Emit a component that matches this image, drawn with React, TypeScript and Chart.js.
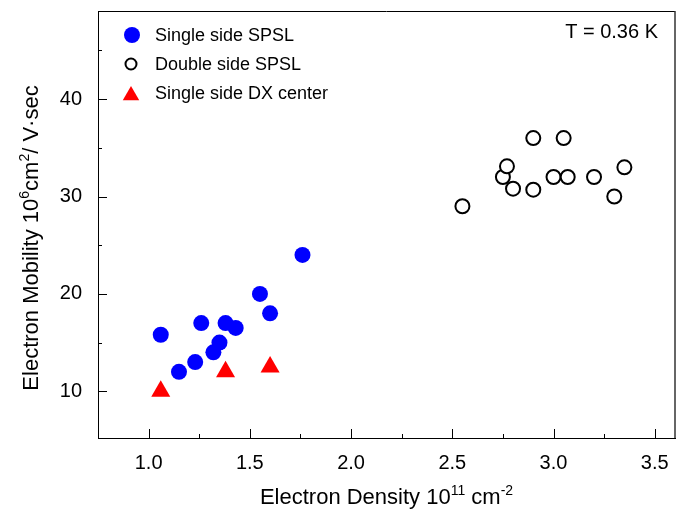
import React, { useEffect, useRef } from 'react';
import { Chart, registerables } from 'chart.js';

Chart.register(...registerables);

const singleX = [1.06, 1.15, 1.23, 1.26, 1.32, 1.35, 1.38, 1.43, 1.55, 1.6, 1.76];
const singleY = [15.8, 12.0, 13.0, 17.0, 14.0, 15.0, 17.0, 16.5, 20.0, 18.0, 24.0];
const doubleX = [2.55, 2.75, 2.77, 2.8, 2.9, 2.9, 3.0, 3.05, 3.07, 3.2, 3.3, 3.35];
const doubleY = [29.0, 32.0, 33.1, 30.8, 36.0, 30.7, 32.0, 36.0, 32.0, 32.0, 30.0, 33.0];
const dxX = [1.06, 1.38, 1.6];
const dxY = [10.0, 12.0, 12.5];

const xTicks = [1.0, 1.5, 2.0, 2.5, 3.0, 3.5];
const xMinorTicks = [1.25, 1.75, 2.25, 2.75, 3.25];
const yTicks = [10, 20, 30, 40];
const yMinorTicks = [15, 25, 35, 45];

const legendLabels = ['Single side SPSL', 'Double side SPSL', 'Single side DX center'];
const annotationText = 'T = 0.36 K';
const xTitleParts = [
  { t: 'Electron Density 10', sup: false },
  { t: '11', sup: true },
  { t: ' cm', sup: false },
  { t: '-2', sup: true },
];
const yTitleParts = [
  { t: 'Electron Mobility 10', sup: false },
  { t: '6', sup: true },
  { t: 'cm', sup: false },
  { t: '2', sup: true },
  { t: '/ V\u00B7sec', sup: false },
];

const FONT = '"Liberation Sans", Arial, Helvetica, sans-serif';

function toPoints(xs: number[], ys: number[]) {
  return xs.map((x, i) => ({ x, y: ys[i] }));
}

function drawRich(ctx: CanvasRenderingContext2D, parts: { t: string; sup: boolean }[], size: number, cx: number, baseline: number) {
  const supSize = Math.round(size * 0.62);
  let total = 0;
  for (const p of parts) {
    ctx.font = `${p.sup ? supSize : size}px ${FONT}`;
    total += ctx.measureText(p.t).width;
  }
  let x = cx - total / 2;
  ctx.textAlign = 'left';
  ctx.textBaseline = 'alphabetic';
  for (const p of parts) {
    ctx.font = `${p.sup ? supSize : size}px ${FONT}`;
    ctx.fillText(p.t, x, p.sup ? baseline - size * 0.42 : baseline);
    x += ctx.measureText(p.t).width;
  }
}

const decorPlugin = {
  id: 'decor',
  afterDraw(chart: any) {
    const { ctx, chartArea, scales } = chart;
    const { left, right, top, bottom } = chartArea;
    ctx.save();
    ctx.strokeStyle = '#000';
    ctx.lineWidth = 1;
    ctx.beginPath();
    ctx.moveTo(left, top + 0.5);
    ctx.lineTo(right, top + 0.5);
    ctx.stroke();
    ctx.strokeStyle = '#333';
    ctx.lineWidth = 1.5;
    ctx.beginPath();
    ctx.moveTo(right, top);
    ctx.lineTo(right, bottom);
    ctx.stroke();
    ctx.strokeStyle = '#000';
    ctx.lineWidth = 1;
    ctx.beginPath();
    for (const v of xTicks) {
      const px = Math.round(scales.x.getPixelForValue(v)) + 0.5;
      ctx.moveTo(px, bottom);
      ctx.lineTo(px, bottom - 9);
    }
    for (const v of xMinorTicks) {
      const px = Math.round(scales.x.getPixelForValue(v)) + 0.5;
      ctx.moveTo(px, bottom);
      ctx.lineTo(px, bottom - 4);
    }
    for (const v of yTicks) {
      const py = Math.round(scales.y.getPixelForValue(v)) + 0.5;
      ctx.moveTo(left, py);
      ctx.lineTo(left + 9, py);
    }
    for (const v of yMinorTicks) {
      const py = Math.round(scales.y.getPixelForValue(v)) + 0.5;
      ctx.moveTo(left, py);
      ctx.lineTo(left + 4, py);
    }
    ctx.stroke();

    // legend
    ctx.fillStyle = '#0000ff';
    ctx.beginPath();
    ctx.arc(132, 35, 8, 0, Math.PI * 2);
    ctx.fill();
    ctx.strokeStyle = '#000';
    ctx.lineWidth = 2;
    ctx.beginPath();
    ctx.arc(131, 64, 5.5, 0, Math.PI * 2);
    ctx.stroke();
    ctx.fillStyle = '#ff0000';
    const tr = 9.5, tcx = 131, tcy = 95.5;
    ctx.beginPath();
    ctx.moveTo(tcx, tcy - tr);
    ctx.lineTo(tcx + tr * Math.sin((2 * Math.PI) / 3), tcy + tr / 2);
    ctx.lineTo(tcx - tr * Math.sin((2 * Math.PI) / 3), tcy + tr / 2);
    ctx.closePath();
    ctx.fill();

    ctx.fillStyle = '#000';
    ctx.font = `18px ${FONT}`;
    ctx.textAlign = 'left';
    ctx.textBaseline = 'middle';
    ctx.fillText(legendLabels[0], 155, 36);
    ctx.fillText(legendLabels[1], 155, 65);
    ctx.fillText(legendLabels[2], 155, 94);

    ctx.font = `20px ${FONT}`;
    ctx.textAlign = 'right';
    ctx.fillText(annotationText, 658, 32);

    drawRich(ctx, xTitleParts, 22, (left + right) / 2, 504);
    ctx.translate(38, 238);
    ctx.rotate(-Math.PI / 2);
    drawRich(ctx, yTitleParts, 22, 0, 0);
    ctx.restore();
  },
};

export default function App() {
  const ref = useRef<HTMLCanvasElement | null>(null);
  useEffect(() => {
    if (!ref.current) return;
    const chart = new Chart(ref.current, {
      type: 'scatter',
      data: {
        datasets: [
          {
            label: legendLabels[0],
            data: toPoints(singleX, singleY),
            pointStyle: 'circle',
            pointRadius: 8,
            pointBackgroundColor: '#0000ff',
            pointBorderWidth: 0,
            pointBorderColor: '#0000ff',
          },
          {
            label: legendLabels[1],
            data: toPoints(doubleX, doubleY),
            pointStyle: 'circle',
            pointRadius: 7,
            pointBackgroundColor: '#ffffff',
            pointBorderColor: '#000000',
            pointBorderWidth: 2,
          },
          {
            label: legendLabels[2],
            data: toPoints(dxX, dxY),
            pointStyle: 'triangle',
            pointRadius: 11,
            pointBackgroundColor: '#ff0000',
            pointBorderColor: '#ff0000',
            pointBorderWidth: 0,
          },
        ],
      },
      options: {
        responsive: false,
        animation: false,
        layout: { padding: { top: 10, right: 9, left: 0, bottom: 0 } },
        plugins: {
          legend: { display: false },
          tooltip: { enabled: false },
        },
        scales: {
          x: {
            type: 'linear',
            min: 0.75,
            max: 3.6,
            grid: { display: false, drawTicks: false },
            border: { display: true, color: '#000', width: 1 },
            afterBuildTicks: (s: any) => {
              s.ticks = xTicks.map((v) => ({ value: v }));
            },
            afterFit: (s: any) => {
              s.height = 76;
              s.paddingLeft = 0;
              s.paddingRight = 0;
            },
            ticks: {
              color: '#000',
              padding: 13,
              font: { family: FONT, size: 20 },
              callback: (v: any) => Number(v).toFixed(1),
            },
          },
          y: {
            type: 'linear',
            min: 5.2,
            max: 49.05,
            grid: { display: false, drawTicks: false },
            border: { display: true, color: '#000', width: 1 },
            afterBuildTicks: (s: any) => {
              s.ticks = yTicks.map((v) => ({ value: v }));
            },
            afterFit: (s: any) => {
              s.width = 98;
              s.paddingTop = 0;
              s.paddingBottom = 0;
            },
            ticks: {
              color: '#000',
              padding: 16,
              font: { family: FONT, size: 20 },
              callback: (v: any) => String(v),
            },
          },
        },
      },
      plugins: [decorPlugin],
    });
    return () => chart.destroy();
  }, []);
  return (
    <div style={{ position: 'absolute', left: 0, top: 0, width: 686, height: 514, background: '#fff' }}>
      <canvas ref={ref} width={686} height={514} />
    </div>
  );
}
